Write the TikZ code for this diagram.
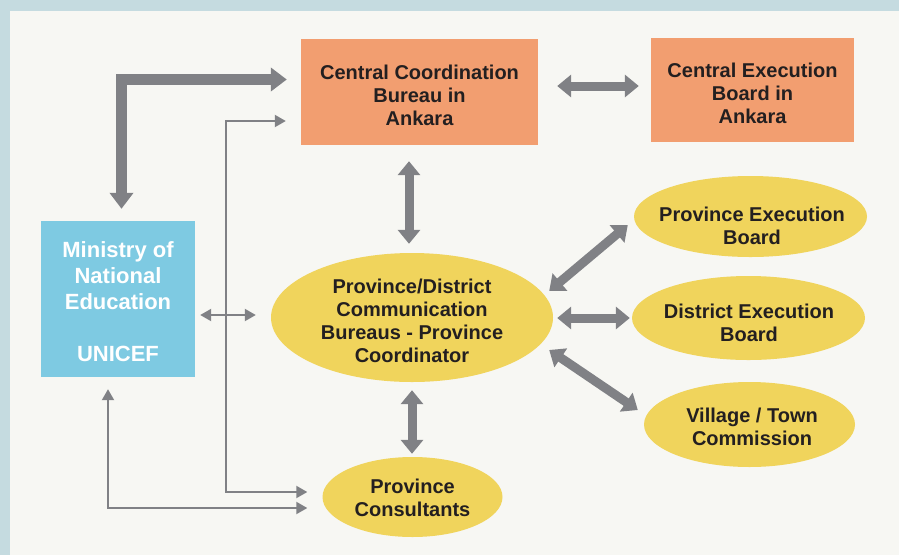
\documentclass[tikz,border=0pt]{standalone}
\usepackage{fontspec}
\setmainfont{Liberation Sans}
\usetikzlibrary{shapes.geometric,arrows.meta}
\definecolor{bord}{HTML}{C5DBE0}
\definecolor{panel}{HTML}{F7F7F3}
\definecolor{orng}{HTML}{F29E70}
\definecolor{blu}{HTML}{7ECAE2}
\definecolor{yel}{HTML}{F0D45C}
\definecolor{arr}{HTML}{808185}
\definecolor{txt}{HTML}{231F20}
\begin{document}
\begin{tikzpicture}[x=1pt,y=-1pt,
  box/.style={rectangle,fill=orng,inner sep=0pt},
  ell/.style={ellipse,fill=yel,inner sep=0pt},
  lbl/.style={align=center,text=txt,font=\fontsize{20}{23}\selectfont\bfseries,inner sep=0pt},
  fat/.style={draw=arr,line width=9pt,{Triangle[width=22pt,length=14pt]}-{Triangle[width=22pt,length=14pt]}},
  fatL/.style={draw=arr,line width=11pt,{Triangle[width=23pt,length=16pt]}-{Triangle[width=23pt,length=16pt]}},
  thinarr/.style={draw=arr,line width=2pt,{Triangle[width=12pt,length=11pt]}-{Triangle[width=12pt,length=11pt]}}]
\fill[bord] (0,0) rectangle (899,555);
\fill[panel] (10,11) rectangle (899,555);
\useasboundingbox (0,0) rectangle (899,555);

\node[box,minimum width=237pt,minimum height=106pt] (ccb) at (419.5,92) {};
\node[lbl] (ccbL) at (419.5,95) {Central Coordination\\Bureau in\\Ankara};
\node[box,minimum width=203pt,minimum height=104pt] (ceb) at (752.5,90) {};
\node[lbl] (cebL) at (752.5,93.5) {Central Execution\\Board in\\Ankara};
\node[rectangle,fill=blu,inner sep=0pt,minimum width=154pt,minimum height=156pt] (min) at (118,299) {};
\node[lbl,text=white,font=\fontsize{22}{26}\selectfont\bfseries] (minL) at (118,302) {Ministry of\\National\\Education\\[26pt]UNICEF};

\node[ell,minimum width=282pt,minimum height=129pt] (main) at (412,317.5) {};
\node[lbl] (mainL) at (412,321) {Province/District\\Communication\\Bureaus - Province\\Coordinator};
\node[ell,minimum width=180pt,minimum height=80pt] (pc) at (412.5,497) {};
\node[lbl] (pcL) at (412.5,497.5) {Province\\Consultants};
\node[ell,minimum width=233pt,minimum height=81pt] (peb) at (750.5,216.5) {};
\node[lbl] (pebL) at (752,226) {Province Execution\\Board};
\node[ell,minimum width=233pt,minimum height=84pt] (deb) at (748.5,318) {};
\node[lbl] (debL) at (749,323) {District Execution\\Board};
\node[ell,minimum width=211pt,minimum height=85pt] (vil) at (749.5,424.5) {};
\node[lbl] (vilL) at (752,426.5) {Village / Town\\Commission};

% thick L arrow
\draw[fatL] ([xshift=-14pt,yshift=12.5pt]ccb.west) -| ([xshift=3.5pt,yshift=12pt]min.north);
% thick double arrows
\draw[fat] ([xshift=19pt,yshift=6pt]ccb.east) -- ([xshift=-12pt,yshift=4pt]ceb.west);
\draw[fat] ([xshift=-10.5pt,yshift=-16pt]ccb.south) -- ([xshift=-3pt,yshift=9pt]main.north);
\draw[fat] ([yshift=-8pt]main.south) -- ([xshift=-0.5pt,yshift=3pt]pc.north);
\draw[fat] ([shift={(-4pt,26.5pt)}]main.east) -- ([shift={(-6pt,-8.5pt)}]peb.west);
\draw[fat] ([shift={(4pt,-0.5pt)}]main.east) -- ([shift={(-2pt,0pt)}]deb.west);
\draw[fat] ([shift={(-4pt,-32.5pt)}]main.east) -- ([shift={(-6pt,14.5pt)}]vil.west);
% thin arrows
\draw[thinarr] ([xshift=-15pt,yshift=-29pt]ccb.west) -- ++(-60,0) |- ([xshift=-15pt,yshift=5pt]pc.west);
\draw[thinarr] ([xshift=-10pt,yshift=-12pt]min.south) |- ([xshift=-15pt,yshift=-11pt]pc.west);
\draw[thinarr] ([xshift=5pt,yshift=-16pt]min.east) -- ([xshift=-15pt,yshift=2.5pt]main.west);
\end{tikzpicture}
\end{document}
